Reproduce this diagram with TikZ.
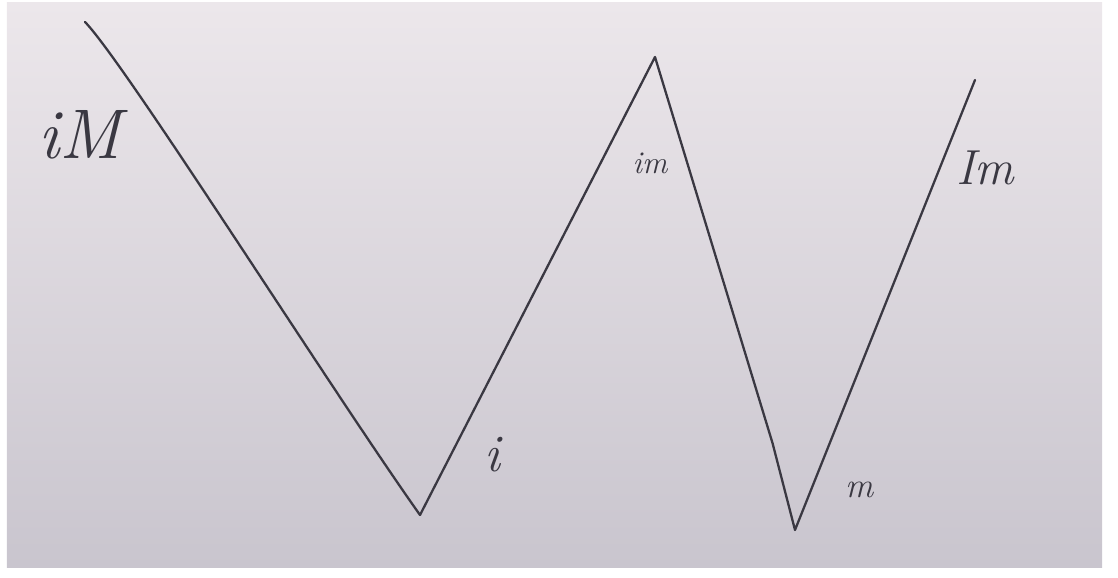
\documentclass[tikz,border=0pt]{standalone}
\usepackage{fontspec}
\tikzset{
  ink/.style={line width=1.3pt, draw=inkgrey, line cap=round, line join=round},
  hand/.style={text=inkgrey, font=\itshape, inner sep=0pt}
}
\definecolor{inkgrey}{RGB}{58,56,66}
\definecolor{papertop}{RGB}{236,231,235}
\definecolor{paperbot}{RGB}{201,197,206}
\begin{document}
\begin{tikzpicture}
\useasboundingbox (0,0) rectangle (22.36,11.56);
\shade[top color=papertop, bottom color=paperbot] (0.14,0.20) rectangle (22.04,11.50);

\coordinate (s) at (1.70,11.12);
\coordinate (b1) at (8.40,1.26);
\coordinate (t2) at (13.10,10.42);
\coordinate (k) at (15.45,2.70);
\coordinate (b2) at (15.90,0.96);
\coordinate (e) at (19.50,9.96);

\draw[ink] (s) .. controls (2.50,10.30) and (6.60,3.80) .. (b1);
\draw[ink] (b1) -- (t2) -- (k) -- (b2) -- (e);

\node[hand, font=\fontsize{40}{40}\selectfont\itshape] (iM) at (1.60,8.86) {iM};
\node[hand, font=\fontsize{18}{18}\selectfont\itshape] (im) at (13.00,8.30) {im};
\node[hand, font=\fontsize{28}{28}\selectfont\itshape] (Im) at (19.70,8.20) {Im};
\node[hand, font=\fontsize{30}{30}\selectfont\itshape] (i) at (9.84,2.46) {i};
\node[hand, font=\fontsize{20}{20}\selectfont\itshape] (m) at (17.20,1.76) {m};
\end{tikzpicture}
\end{document}
